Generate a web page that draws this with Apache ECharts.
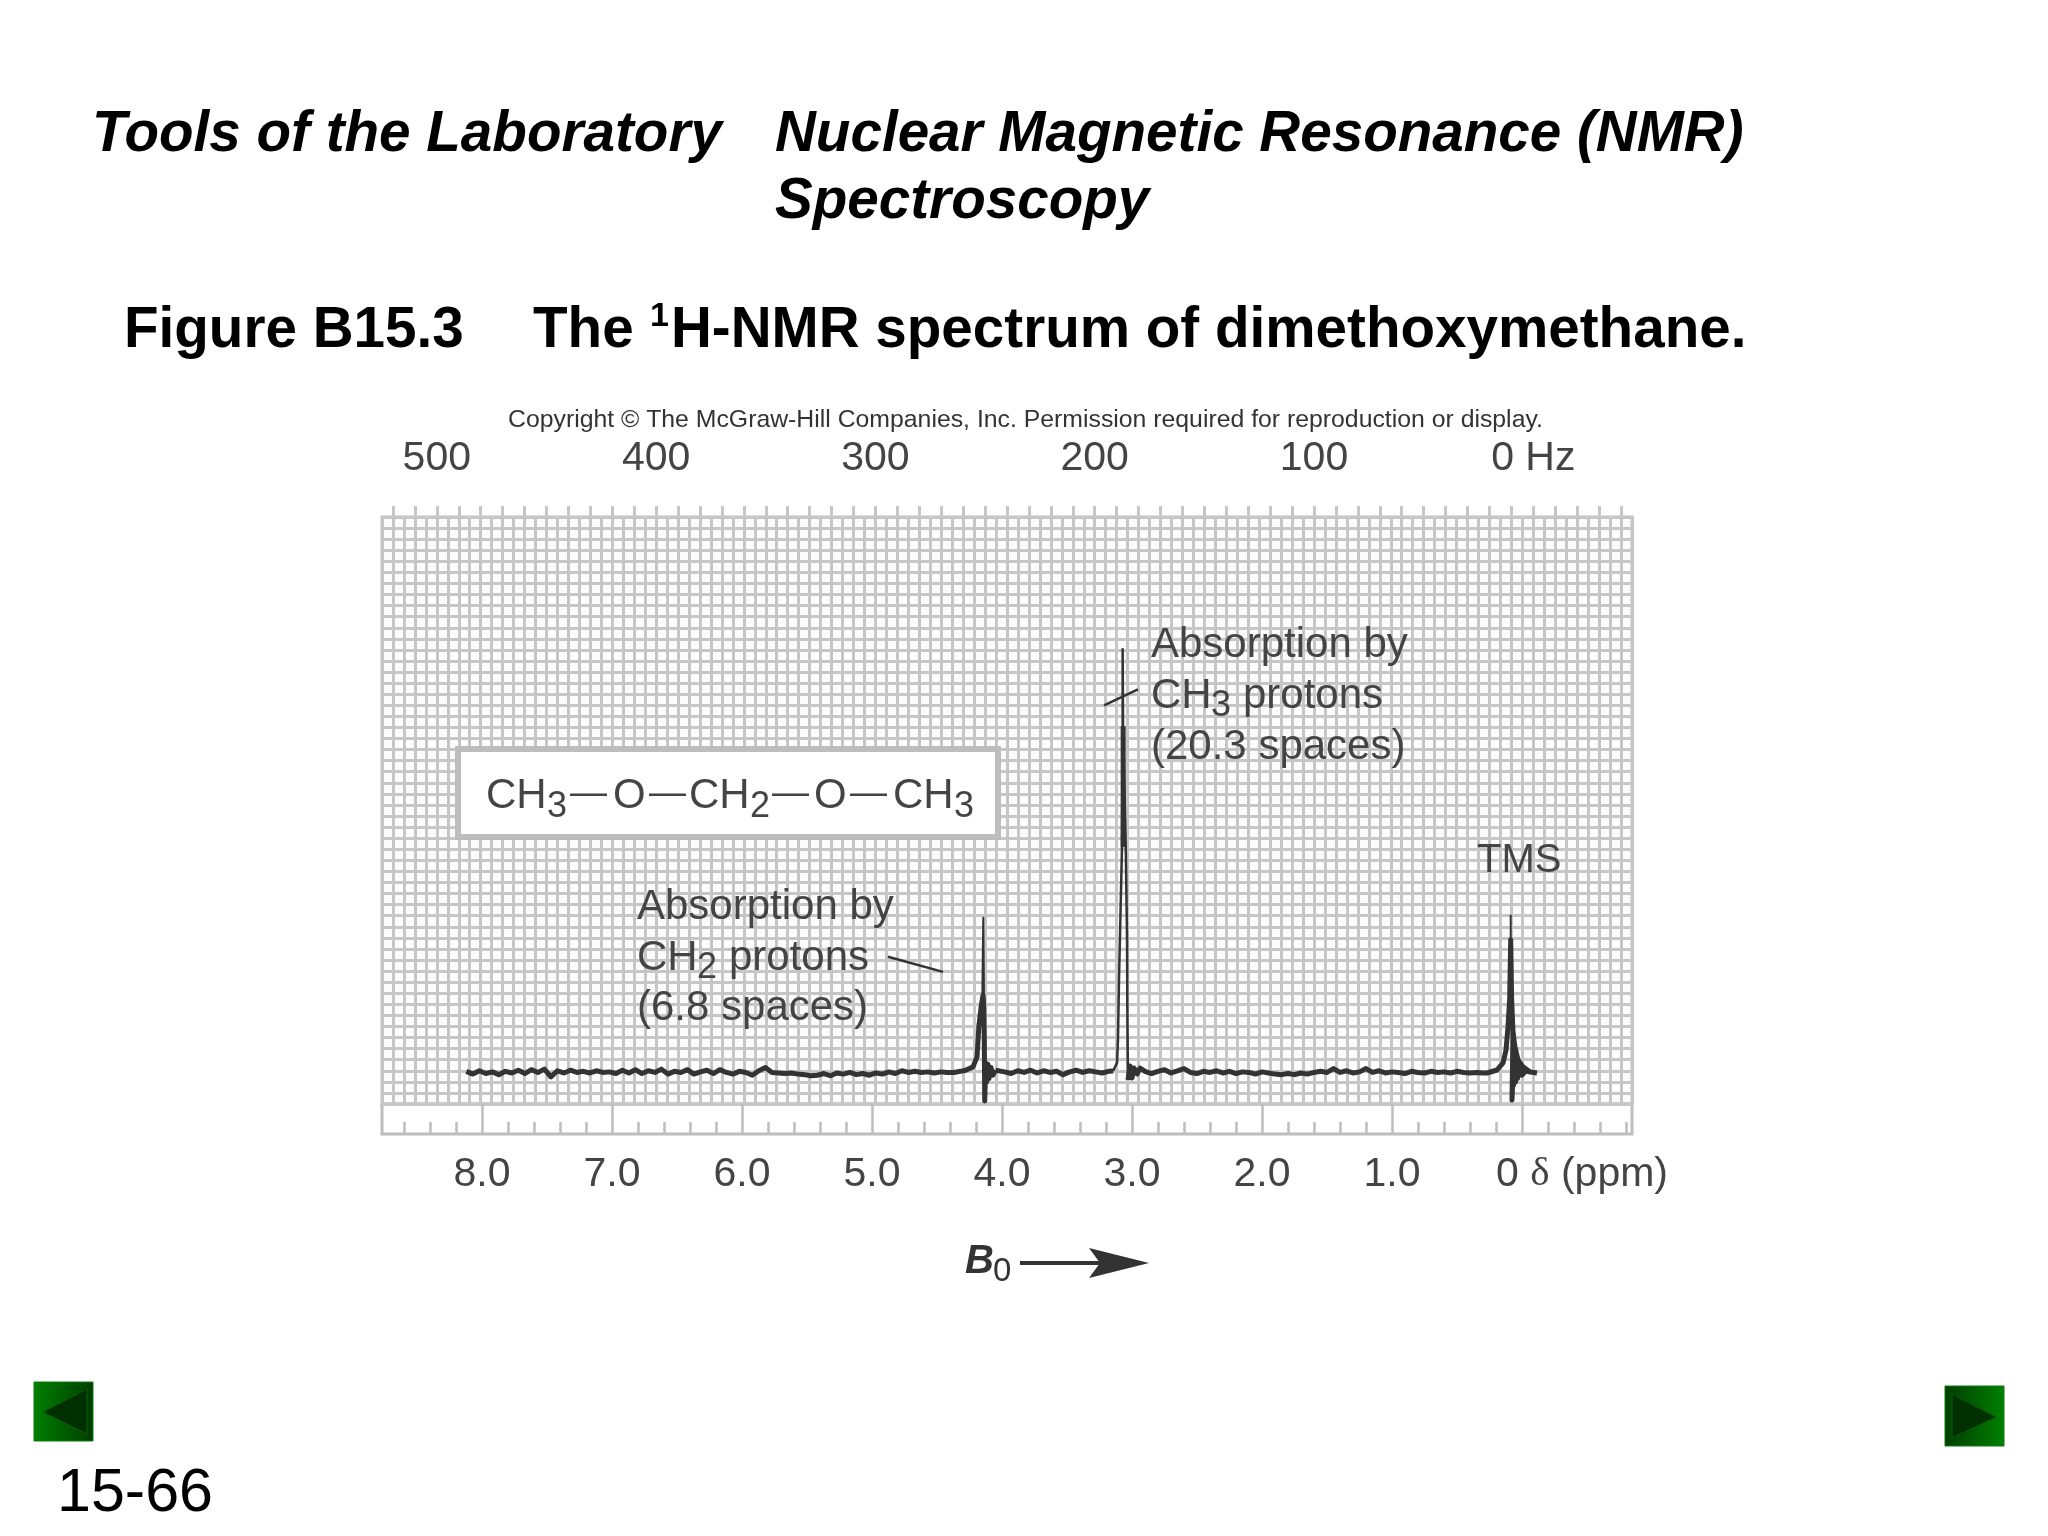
<!DOCTYPE html>
<html>
<head>
<meta charset="utf-8">
<title>1H-NMR spectrum of dimethoxymethane</title>
<script src="https://cdn.jsdelivr.net/npm/echarts@6/dist/echarts.min.js"></script>
<style>
  html, body { margin: 0; padding: 0; background: #fff; }
  #container { width: 2048px; height: 1536px; }
</style>
</head>
<body>
<div id="container"></div>
<script>
// axis values
var hzLabels = [500, 400, 300, 200, 100, 0];
var hzTicks = [520, 510, 500, 490, 480, 470, 460, 450, 440, 430, 420, 410, 400, 390, 380, 370, 360, 350, 340, 330, 320, 310, 300, 290, 280, 270, 260, 250, 240, 230, 220, 210, 200, 190, 180, 170, 160, 150, 140, 130, 120, 110, 100, 90, 80, 70, 60, 50, 40, 30, 20, 10, 0, -10, -20, -30, -40];
var ppmMajor = [8, 7, 6, 5, 4, 3, 2, 1, 0];
var ppmMinor = [8.6, 8.4, 8.2, 7.8, 7.6, 7.4, 7.2, 6.8, 6.6, 6.4, 6.2, 5.8, 5.6, 5.4, 5.2, 4.8, 4.6, 4.4, 4.2, 3.8, 3.6, 3.4, 3.2, 2.8, 2.6, 2.4, 2.2, 1.8, 1.6, 1.4, 1.2, 0.8, 0.6, 0.4, 0.2, -0.2, -0.4, -0.6, -0.8];

// spectrum trace: [ppm, height in chart-paper rows]
var baselineLeft = [[8.12,2.95],[8.07,2.7],[8.02,3.0],[7.97,2.75],[7.92,2.9],[7.87,2.65],[7.82,2.95],[7.77,2.8],[7.72,3.05],[7.67,2.75],[7.62,3.1],[7.57,2.85],[7.52,3.15],[7.47,2.45],[7.42,3.0],[7.37,2.8],[7.32,3.05],[7.27,2.85],[7.22,2.95],[7.17,2.8],[7.12,3.0],[7.07,2.85],[7.02,2.9],[6.97,2.75],[6.92,3.05],[6.87,2.8],[6.82,3.1],[6.77,2.75],[6.72,3.0],[6.67,2.85],[6.62,3.15],[6.57,2.7],[6.52,2.95],[6.47,2.85],[6.42,3.1],[6.37,2.7],[6.32,2.9],[6.27,3.05],[6.22,2.75],[6.17,3.1],[6.12,2.85],[6.07,2.7],[6.02,2.95],[5.97,2.85],[5.92,2.6],[5.87,3.0],[5.82,3.3],[5.77,2.85],[5.72,2.8],[5.67,2.75],[5.62,2.8],[5.57,2.7],[5.52,2.65],[5.47,2.55],[5.42,2.6],[5.37,2.75],[5.32,2.55],[5.27,2.8],[5.22,2.7],[5.17,2.85],[5.12,2.65],[5.07,2.75],[5.02,2.6],[4.97,2.8],[4.92,2.7],[4.87,2.9],[4.82,2.75],[4.77,3.0],[4.72,2.85],[4.67,2.95],[4.62,2.85],[4.57,2.9],[4.52,2.8],[4.47,2.9],[4.42,2.85],[4.37,2.85],[4.32,2.95],[4.28,3.05],[4.223,3.35],[4.192,4.25],[4.178,7.0],[4.158,9.0],[4.146,9.8],[4.14,8.6],[4.136,5.5],[4.133,0.27],[4.124,3.7],[4.118,2.0],[4.108,3.6],[4.1,2.3],[4.085,3.3],[4.07,2.6],[4.05,3.05]];
var baselineMid = [[4.05,3.05],[3.98,2.9],[3.93,2.75],[3.88,3.0],[3.83,2.85],[3.78,3.05],[3.73,2.8],[3.68,3.0],[3.63,2.85],[3.58,2.95],[3.53,2.65],[3.48,2.9],[3.43,3.05],[3.38,2.85],[3.33,3.0],[3.28,2.9],[3.23,2.8],[3.18,2.95],[3.146,2.98]];
var baselineRight = [[3.031,2.17],[3.023,2.0],[3.015,3.44],[3.0,2.35],[2.985,3.25],[2.96,2.71],[2.938,3.25],[2.9,2.95],[2.85,2.75],[2.8,2.95],[2.75,3.1],[2.7,2.8],[2.65,3.0],[2.6,3.2],[2.55,2.85],[2.5,2.75],[2.45,2.95],[2.4,2.85],[2.35,3.0],[2.3,2.8],[2.25,2.95],[2.2,2.75],[2.15,2.9],[2.1,2.85],[2.05,2.7],[2.0,2.9],[1.95,2.8],[1.9,2.7],[1.85,2.65],[1.8,2.75],[1.75,2.65],[1.7,2.8],[1.65,2.7],[1.6,2.85],[1.55,2.95],[1.5,2.85],[1.45,3.2],[1.4,2.85],[1.35,3.0],[1.3,2.8],[1.25,2.9],[1.2,3.2],[1.15,2.85],[1.1,3.0],[1.05,2.8],[1.0,2.9],[0.95,2.85],[0.9,2.75],[0.85,2.95],[0.8,2.85],[0.75,2.8],[0.7,2.95],[0.65,2.85],[0.6,2.9],[0.55,2.8],[0.5,2.95],[0.45,2.85],[0.4,2.8],[0.35,2.85],[0.3,2.8],[0.269,2.8],[0.192,3.07],[0.146,3.71],[0.123,4.88],[0.108,6.96],[0.095,9.5],[0.087,14.83],[0.08,9.5],[0.069,6.42],[0.077,0.36],[0.062,4.9],[0.064,1.7],[0.045,4.5],[0.05,2.0],[0.03,3.9],[0.035,2.3],[0.01,3.3],[0.0,2.6],[-0.03,3.0],[-0.062,2.89],[-0.115,2.8]];
var tmsShoulder = [[0.069,6.42],[0.054,5.15],[0.031,3.98],[-0.008,3.35],[-0.062,2.89]];
var ch2Tip = [[4.152,9.0],[4.144,16.82],[4.138,9.0]];
var ch3Peak = [[3.146,2.98],[3.115,3.71],[3.108,5.79],[3.1,11.2],[3.077,23.2],[3.072,34.1],[3.072,41.05],[3.069,34.1],[3.048,23.2],[3.038,14.8],[3.036,8.77],[3.031,2.17]];
var ch3Body = [[3.068,23.2],[3.068,34.1]];
var tmsTip = [[0.087,14.0],[0.087,17.09]];
// short pointers from the annotations to the peaks
var pointers = [
  [[3.215, 35.99], [2.954, 37.43]],
  [[4.877, 13.29], [4.454, 11.93]]
];

var INK = '#333333';
var LABEL = '#444444';
var GRIDLINE = '#c6c6c6';
var SANS = '"Liberation Sans", Arial, sans-serif';

var dom = document.getElementById('container');
var myChart = echarts.init(dom);

function line(data, width) {
  return {
    type: 'line',
    xAxisIndex: 0,
    yAxisIndex: 0,
    showSymbol: false,
    symbol: 'none',
    animation: false,
    silent: true,
    z: 5,
    lineStyle: { color: INK, width: width, join: 'round' },
    data: data
  };
}

// y passed is the text baseline
function txt(x, y, text, size, extra) {
  var style = {
    x: x,
    y: y - 0.27 * size,
    text: text,
    fill: LABEL,
    textAlign: 'left',
    textVerticalAlign: 'middle',
    font: size + 'px ' + SANS
  };
  for (var k in extra) style[k] = extra[k];
  return { type: 'text', z: 20, silent: true, style: style };
}

function heading(x, y, text, italic) {
  return txt(x, y, text, 56.6, {
    fill: '#000',
    font: (italic ? 'italic ' : '') + 'bold 56.6px ' + SANS
  });
}

function navButton(x, y, w, h, tri, flip) {
  var bright = '#008000', dark = '#003c00';
  return [{
    type: 'rect', z: 20, silent: true,
    shape: { x: x, y: y, width: w, height: h },
    style: {
      stroke: '#0c7c0c', lineWidth: 1,
      fill: new echarts.graphic.LinearGradient(0, 0, 1, 0, [
        { offset: 0, color: flip ? dark : bright },
        { offset: 1, color: flip ? bright : dark }
      ])
    }
  }, {
    type: 'polygon', z: 21, silent: true,
    shape: { points: tri },
    style: { fill: '#003000', stroke: '#0a5a0a', lineWidth: 1 }
  }];
}

var graphics = [
  heading(92, 151, 'Tools of the Laboratory', true),
  heading(775, 151, 'Nuclear Magnetic Resonance (NMR)', true),
  heading(775, 218, 'Spectroscopy', true),
  heading(124, 347, 'Figure B15.3', false),
  heading(533, 347, 'The', false),
  txt(650, 326, '1', 34, { fill: '#000', font: 'bold 34px ' + SANS }),
  heading(671, 347, 'H-NMR spectrum of dimethoxymethane.', false),
  txt(508, 427, 'Copyright © The McGraw-Hill Companies, Inc. Permission required for reproduction or display.', 24.8, { fill: '#333' }),
  // formula box sits on the paper
  {
    type: 'rect', z: 10, silent: true,
    shape: { x: 458, y: 749, width: 540, height: 88 },
    style: { fill: '#fff', stroke: '#bdbdbd', lineWidth: 6 }
  },
  txt(486, 808, 'CH', 42),
  txt(547, 817, '3', 36),
  txt(570, 804, '—', 37),
  txt(613, 808, 'O', 42),
  txt(649, 804, '—', 37),
  txt(689, 808, 'CH', 42),
  txt(750, 817, '2', 36),
  txt(772, 804, '—', 37),
  txt(814, 808, 'O', 42),
  txt(850, 804, '—', 37),
  txt(893, 808, 'CH', 42),
  txt(954, 817, '3', 36),
  txt(1151, 657, 'Absorption by', 42),
  txt(1151, 708, 'CH', 42),
  txt(1211, 716, '3', 36),
  txt(1243, 708, 'protons', 42),
  txt(1151, 759, '(20.3 spaces)', 42),
  txt(637, 919, 'Absorption by', 42),
  txt(637, 970, 'CH', 42),
  txt(697, 978, '2', 36),
  txt(729, 970, 'protons', 42),
  txt(637, 1020, '(6.8 spaces)', 42),
  txt(1477, 872, 'TMS', 40),
  txt(965, 1273, 'B', 40, { fill: INK, font: 'italic bold 40px ' + SANS }),
  txt(993, 1281, '0', 33, { fill: INK }),
  {
    type: 'line', z: 20, silent: true,
    shape: { x1: 1020, y1: 1263, x2: 1100, y2: 1263 },
    style: { stroke: INK, lineWidth: 4 }
  },
  {
    type: 'polygon', z: 20, silent: true,
    shape: { points: [[1089, 1248], [1149, 1263], [1089, 1278], [1100, 1263]] },
    style: { fill: INK }
  },
  txt(57, 1511, '15-66', 61, { fill: '#000' })
].concat(
  navButton(34, 1382, 59, 59, [[43, 1412], [87, 1389], [87, 1434]], false),
  navButton(1945, 1386, 59, 60, [[1952, 1394], [1952, 1438], [1996, 1417]], true)
);

var option = {
  backgroundColor: '#ffffff',
  animation: false,
  graphic: { elements: graphics },
  grid: [
    { left: 382, top: 517, width: 1250, height: 587, show: true, borderColor: '#bdbdbd', borderWidth: 3, backgroundColor: '#fcfcfc' },
    { left: 382, top: 1104, width: 1250, height: 30, show: true, borderColor: '#bdbdbd', borderWidth: 3 }
  ],
  xAxis: [
    // spectrum scale, same as the ruler below
    { gridIndex: 0, type: 'value', min: -0.846, max: 8.769, inverse: true, show: false },
    // paper lines, one every 5 Hz
    {
      gridIndex: 0, type: 'value', position: 'top', min: -45, max: 525, interval: 5, inverse: true,
      axisLine: { show: false }, axisTick: { show: false }, axisLabel: { show: false },
      splitLine: { show: true, lineStyle: { color: GRIDLINE, width: 3 } }
    },
    // Hz scale on top
    {
      gridIndex: 0, type: 'value', position: 'top', min: -45, max: 525, inverse: true,
      axisLine: { show: false },
      axisTick: { show: true, length: 11, customValues: hzTicks, lineStyle: { color: GRIDLINE, width: 3 } },
      axisLabel: {
        show: true, customValues: hzLabels, margin: 38, color: LABEL, fontSize: 41, fontFamily: 'Liberation Sans',
        formatter: function (v) { return v === 0 ? '0 Hz' : String(v); }
      },
      splitLine: { show: false }
    },
    // ppm ruler
    {
      gridIndex: 1, type: 'value', position: 'bottom', min: -0.846, max: 8.769, inverse: true,
      axisLine: { show: false },
      axisTick: { show: true, inside: true, length: 30, customValues: ppmMajor, lineStyle: { color: '#bdbdbd', width: 2.5 } },
      axisLabel: {
        show: true, customValues: ppmMajor, margin: 20, color: LABEL, fontSize: 41, fontFamily: 'Liberation Sans',
        formatter: function (v) { return v === 0 ? '{zero|0 }{delta|δ}{unit| (ppm)}' : v.toFixed(1); },
        rich: {
          zero: { fontSize: 41, color: LABEL, fontFamily: 'Liberation Sans', padding: [0, 0, 0, 120] },
          delta: { fontSize: 41, color: LABEL, fontFamily: 'Liberation Serif' },
          unit: { fontSize: 41, color: LABEL, fontFamily: 'Liberation Sans' }
        }
      },
      splitLine: { show: false }
    },
    {
      gridIndex: 1, type: 'value', position: 'bottom', min: -0.846, max: 8.769, inverse: true,
      axisLine: { show: false },
      axisTick: { show: true, inside: true, length: 12, customValues: ppmMinor, lineStyle: { color: '#bdbdbd', width: 2.5 } },
      axisLabel: { show: false },
      splitLine: { show: false }
    }
  ],
  yAxis: [
    {
      gridIndex: 0, type: 'value', min: 0, max: 53, interval: 1,
      axisLine: { show: false }, axisTick: { show: false }, axisLabel: { show: false },
      splitLine: { show: true, lineStyle: { color: GRIDLINE, width: 3 } }
    },
    { gridIndex: 1, type: 'value', min: 0, max: 1, show: false }
  ],
  series: [
    line(baselineLeft, 5),
    line(baselineMid, 5),
    line(baselineRight, 5),
    line(tmsShoulder, 5),
    line(ch2Tip, 2),
    line(ch3Peak, 2.5),
    line(ch3Body, 5),
    line(tmsTip, 2),
    {
      type: 'line', xAxisIndex: 0, yAxisIndex: 0, symbol: 'none', silent: true, data: [],
      markLine: {
        silent: true, animation: false, symbol: 'none', label: { show: false },
        lineStyle: { color: INK, width: 2.5, type: 'solid' },
        data: pointers.map(function (p) {
          return [{ coord: p[0] }, { coord: p[1] }];
        })
      }
    }
  ]
};
myChart.setOption(option, true);
</script>
</body>
</html>
